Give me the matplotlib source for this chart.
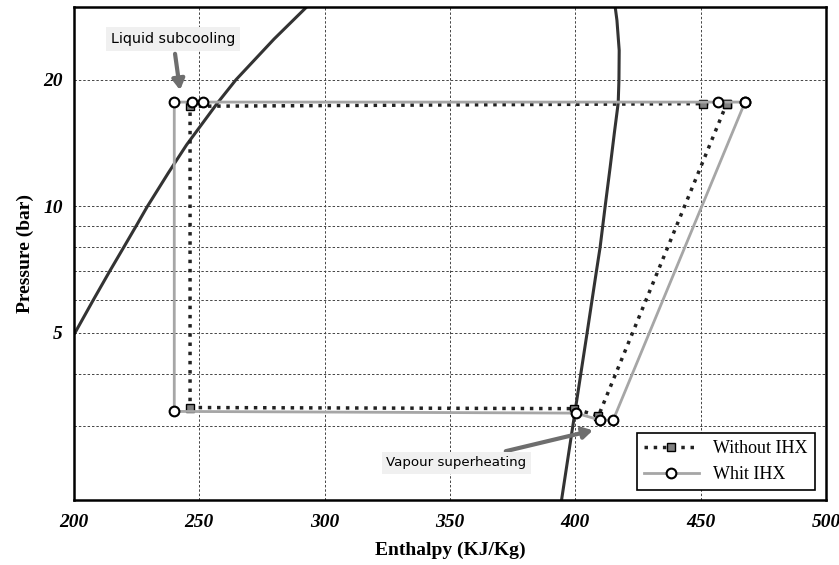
import numpy as np
import matplotlib.pyplot as plt

# saturation curves (enthalpy kJ/kg, pressure bar)
liq_h = [200.4, 207.8, 214.2, 219.9, 224.9, 229.3, 237.6, 244.9, 257.2, 264.6, 279.8, 292.8]
liq_p = [5.0, 6.0, 7.0, 8.0, 9.0, 10.0, 12.0, 14.0, 17.6, 20.0, 25.0, 29.8]
vap_h = [394.5, 399.0, 402.2, 404.7, 406.7, 408.4, 409.9, 411.9, 413.9, 415.6, 417.1, 417.4, 417.5, 416.6, 415.9]
vap_p = [2.0, 3.0, 4.0, 5.0, 6.0, 7.0, 8.0, 10.0, 12.4, 15.0, 17.6, 20.0, 23.5, 27.7, 29.8]

# cycles
wo_h = [460.4, 451.0, 246.3, 246.3, 399.5, 409.2, 460.4]
wo_p = [17.55, 17.55, 17.3, 3.32, 3.30, 3.17, 17.55]
w_h = [467.7, 457.0, 251.3, 247.0, 240.0, 240.0, 400.3, 409.8, 415.1, 467.7]
w_p = [17.7, 17.7, 17.7, 17.7, 17.7, 3.25, 3.22, 3.10, 3.10, 17.7]

yticks = [3, 4, 5, 6, 7, 8, 9, 10, 20]
ylabels = ['', '', '5', '', '', '', '', '10', '20']
xticks = [200, 250, 300, 350, 400, 450, 500]

fig = plt.figure(figsize=(8.39, 5.65), dpi=100)
ax = fig.add_axes([0.0882, 0.115, 0.8963, 0.8726])

ax.plot(liq_h, liq_p, color='#333333', lw=2.2, zorder=2)
ax.plot(vap_h, vap_p, color='#333333', lw=2.2, zorder=2)

l1, = ax.plot(wo_h, wo_p, color='#222222', lw=2.5, ls=':', marker='s', ms=6,
              mfc='#808080', mec='black', mew=1, label='Without IHX', zorder=3)
l2, = ax.plot(w_h, w_p, color='#a6a6a6', lw=2, marker='o', ms=7, mfc='white',
              mec='black', mew=1.5, label='Whit IHX', zorder=4)

ax.set_yscale('log')
ax.set_xlim(200, 500)
ax.set_ylim(2, 29.8)
ax.set_yticks(yticks)
ax.set_yticklabels(ylabels)
ax.minorticks_off()
ax.set_xticks(xticks)
ax.tick_params(axis='x', length=0, pad=10)
ax.tick_params(axis='y', length=0, pad=8)
for lab in ax.get_xticklabels() + ax.get_yticklabels():
    lab.set_fontfamily('Liberation Serif')
    lab.set_fontstyle('italic')
    lab.set_fontweight('bold')
    lab.set_fontsize(14)

ax.grid(True, ls=(0, (2.5, 2)), lw=0.7, color='#444444')
for s in ax.spines.values():
    s.set_linewidth(1.8)

ax.set_xlabel('Enthalpy (KJ/Kg)', family='Liberation Serif', fontweight='bold', fontsize=14, labelpad=8)
ax.set_ylabel('Pressure (bar)', family='Liberation Serif', fontweight='bold', fontsize=14, labelpad=7)

box = dict(boxstyle='square,pad=0.35', fc='#f0f0f0', ec='none')
arr = dict(arrowstyle='-|>,head_width=0.35,head_length=0.6', color='#6e6e6e', lw=3, shrinkB=0)
ax.annotate('Liquid subcooling', xy=(242.3, 18.9), xytext=(239.5, 25.0),
            arrowprops=arr, fontsize=10.3, ha='center', va='center', bbox=box, zorder=5)
ax.annotate('Vapour superheating', xy=(407, 2.93), xytext=(380.5, 2.45),
            arrowprops=arr, fontsize=9.6, ha='right', va='center', bbox=box, zorder=5)

leg = ax.legend([l1, l2], ['Without IHX', 'Whit IHX'], loc='lower right',
                bbox_to_anchor=(0.985, 0.02), borderaxespad=0,
                prop={'family': 'Liberation Serif', 'size': 13}, fancybox=False,
                edgecolor='black', framealpha=1, handlelength=3)
leg.get_frame().set_linewidth(1.2)

fig.savefig('out.png', dpi=100)
